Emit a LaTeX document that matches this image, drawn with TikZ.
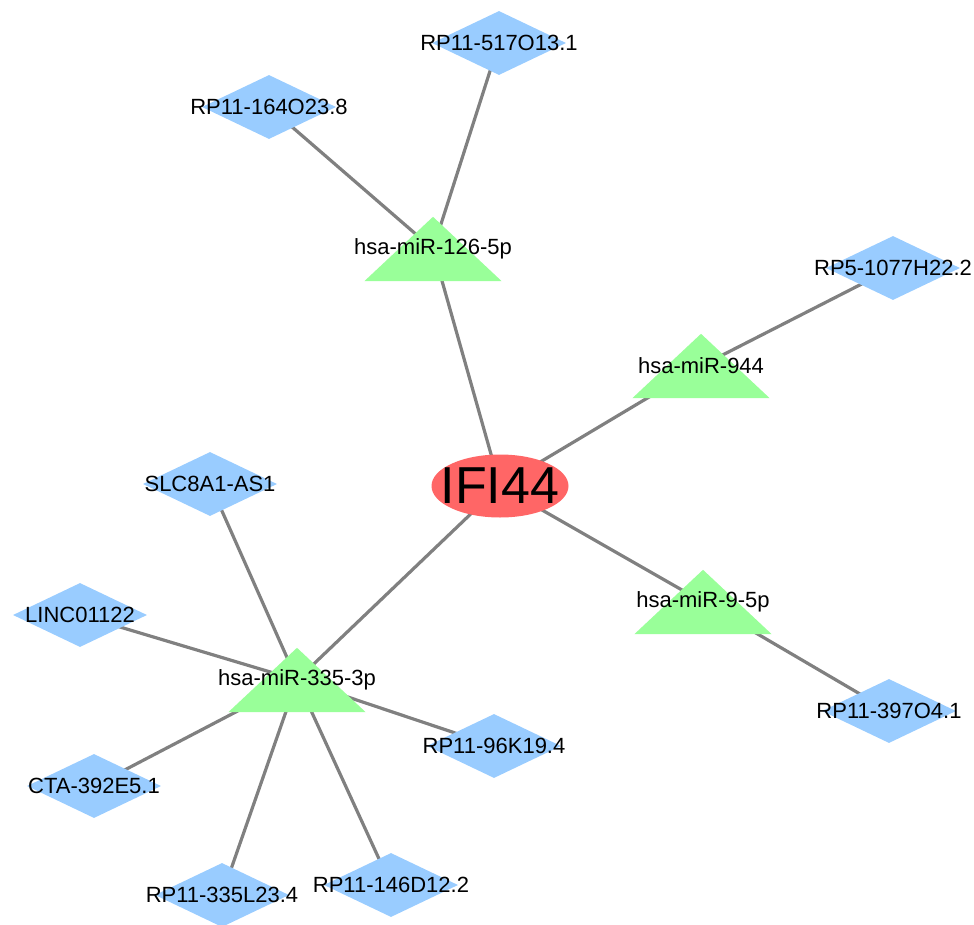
\documentclass[tikz,border=0pt]{standalone}
\usepackage{fontspec}
\setmainfont{Liberation Sans}
\usetikzlibrary{shapes.geometric}
\definecolor{diacol}{HTML}{99CCFF}
\definecolor{tricol}{HTML}{99FF99}
\definecolor{elcol}{HTML}{FF6666}
\definecolor{edgecol}{HTML}{808080}
\pgfdeclarelayer{bg}
\pgfsetlayers{bg,main}
\tikzset{
  lab/.style={font=\fontsize{22}{26}\selectfont, text=black, inner sep=0pt},
  dia/.style={diamond, fill=diacol, draw=none, inner sep=0pt, minimum width=134pt, minimum height=64pt},
  tribox/.style={rectangle, draw=none, inner sep=0pt, minimum width=137pt, minimum height=64pt},
  trifill/.style={fill=tricol, draw=none},
  hub/.style={ellipse, fill=elcol, draw=none, inner sep=0pt, minimum width=137pt, minimum height=63pt},
  link/.style={draw=edgecol, line width=3.2pt}
}
\begin{document}
\begin{tikzpicture}[x=1pt,y=-1pt]
\useasboundingbox (0,0) rectangle (974,925);
% hub
\node[hub, label={[lab, font=\fontsize{52}{60}\selectfont]center:IFI44}] (ifi) at (500,486) {};
% miRNA triangles (boxes)
\node[tribox] (m126) at (433,249) {};
\node[tribox] (m944) at (701,366) {};
\node[tribox] (m95) at (703,602) {};
\node[tribox] (m335) at (297,680) {};
\foreach \n in {m126,m944,m95,m335}{
  \fill[trifill] (\n.south west) -- (\n.south east) -- (\n.north) -- cycle;
}
\node[lab] (m126t) at (m126) {hsa-miR-126-5p};
\node[lab] (m944t) at (m944) {hsa-miR-944};
\node[lab] (m95t) at (m95) {hsa-miR-9-5p};
\node[lab] (m335t) at (m335) {hsa-miR-335-3p};
% lncRNA diamonds
\node[dia, label={[lab]center:RP11-517O13.1}] (d517) at (499,43) {};
\node[dia, label={[lab]center:RP11-164O23.8}] (d164) at (269,107) {};
\node[dia, label={[lab]center:RP5-1077H22.2}] (d1077) at (893,268) {};
\node[dia, label={[lab]center:SLC8A1-AS1}] (dslc) at (210,484) {};
\node[dia, label={[lab]center:LINC01122}] (dlinc) at (80,615) {};
\node[dia, label={[lab]center:CTA-392E5.1}] (dcta) at (94,786) {};
\node[dia, label={[lab]center:RP11-335L23.4}] (d335l) at (222,895) {};
\node[dia, label={[lab]center:RP11-146D12.2}] (d146) at (391,885) {};
\node[dia, label={[lab]center:RP11-96K19.4}] (d96k) at (494,746) {};
\node[dia, label={[lab]center:RP11-397O4.1}] (d397) at (889,711) {};
% edges
\begin{pgfonlayer}{bg}
\draw[link] (ifi.center) -- (m126.center);
\draw[link] (ifi.center) -- (m944.center);
\draw[link] (ifi.center) -- (m95.center);
\draw[link] (ifi.center) -- (m335.center);
\draw[link] (m126.center) -- (d517.center);
\draw[link] (m126.center) -- (d164.center);
\draw[link] (m944.center) -- (d1077.center);
\draw[link] (m95.center) -- (d397.center);
\draw[link] (m335.center) -- (dslc.center);
\draw[link] (m335.center) -- (dlinc.center);
\draw[link] (m335.center) -- (dcta.center);
\draw[link] (m335.center) -- (d335l.center);
\draw[link] (m335.center) -- (d146.center);
\draw[link] (m335.center) -- (d96k.center);
\end{pgfonlayer}
\end{tikzpicture}
\end{document}
